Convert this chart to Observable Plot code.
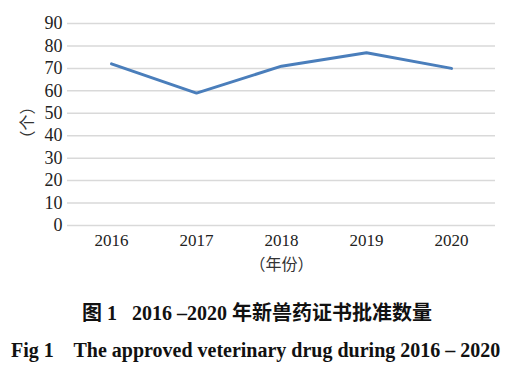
<!DOCTYPE html>
<html>
<head>
<meta charset="utf-8">
<script src="https://cdn.jsdelivr.net/npm/d3@7"></script>
<script src="https://cdn.jsdelivr.net/npm/@observablehq/plot@0.6"></script>
<style>
  html, body { margin: 0; padding: 0; background: #fff; }
  #chart svg { display: block; }
  .cap1 { font-family: "Liberation Serif", "Noto Sans CJK SC", serif; font-weight: bold; font-size: 20px; text-align: center; width: 514px; position: absolute; top: 297px; left: 0; white-space: pre; color: #111; }
  .cap2 { font-family: "Liberation Serif", serif; font-weight: bold; font-size: 20px; position: absolute; top: 339px; left: 11px; white-space: pre; color: #111; }
</style>
</head>
<body>
<div id="chart"></div>
<div class="cap1">图 1   2016 –2020 年新兽药证书批准数量</div>
<div class="cap2">Fig 1    The approved veterinary drug during 2016 – 2020</div>
<script>
const years = ["2016", "2017", "2018", "2019", "2020"];
const counts = [72, 59, 71, 77, 70];
const yTicks = [0, 10, 20, 30, 40, 50, 60, 70, 80, 90];

const data = years.map((y, i) => ({year: y, count: counts[i]}));

const chart = Plot.plot({
  width: 531,
  height: 285,
  marginLeft: 67,
  marginRight: 36,
  marginTop: 23,
  marginBottom: 60,
  style: { fontFamily: "'Liberation Serif', 'Noto Sans CJK SC', serif", fontSize: "17px", color: "#222", background: "#fff" },
  x: { type: "point", domain: years, padding: 0.5, label: null },
  y: { domain: [0, 90], ticks: yTicks, label: null },
  marks: [
    Plot.gridY(yTicks, { stroke: "#d9d9d9", strokeOpacity: 1, strokeWidth: 1.5 }),
    Plot.axisY(yTicks, { tickSize: 0, tickPadding: 5, fontSize: 18, label: null }),
    Plot.axisX({ tickSize: 0, tickPadding: 8, fontSize: 17, label: null }),
    Plot.line(data, { x: "year", y: "count", stroke: "#4a7ebb", strokeWidth: 3 }),
    Plot.text(["（年份）"], { frameAnchor: "bottom", dy: 44, fontSize: 16, fontFamily: "Noto Sans CJK SC", fill: "#333" }),
    Plot.text(["（个）"], { frameAnchor: "left", dx: -40, dy: -2, rotate: -90, textAnchor: "middle", fontSize: 16, fontFamily: "Noto Sans CJK SC", fill: "#333" })
  ]
});
document.getElementById("chart").appendChild(chart);
</script>
</body>
</html>
